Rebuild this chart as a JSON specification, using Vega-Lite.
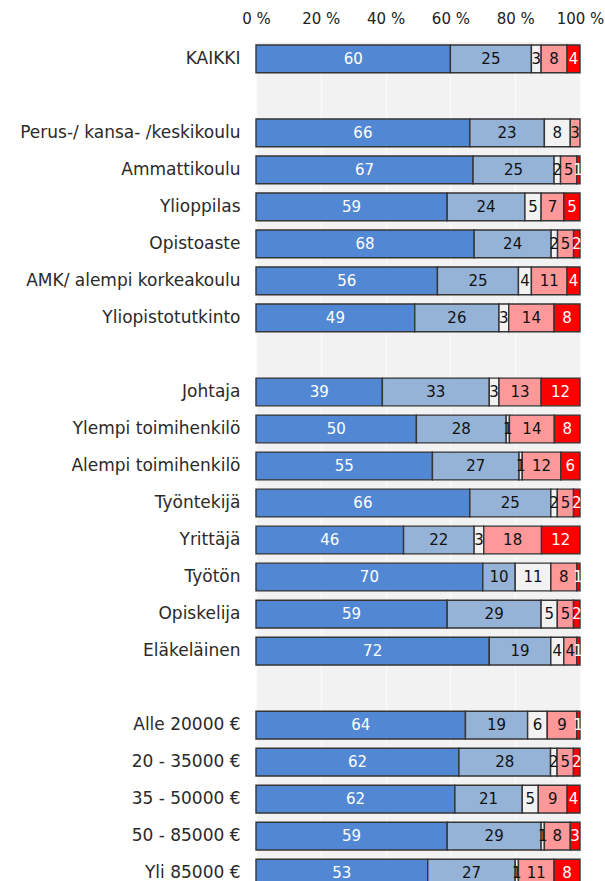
{
  "$schema": "https://vega.github.io/schema/vega-lite/v6.json",
  "autosize": "none",
  "padding": {"left": 256, "top": 42, "right": 25, "bottom": 0},
  "width": 324,
  "height": 848,
  "background": "white",
  "config": {
    "view": {"fill": "#f2f2f2", "stroke": null},
    "font": "DejaVu Sans"
  },
  "data": {
    "values": [
      {"c": "KAIKKI", "k": 1, "v": 60}, {"c": "KAIKKI", "k": 2, "v": 25}, {"c": "KAIKKI", "k": 3, "v": 3}, {"c": "KAIKKI", "k": 4, "v": 8}, {"c": "KAIKKI", "k": 5, "v": 4},
      {"c": "Perus-/ kansa- /keskikoulu", "k": 1, "v": 66}, {"c": "Perus-/ kansa- /keskikoulu", "k": 2, "v": 23}, {"c": "Perus-/ kansa- /keskikoulu", "k": 3, "v": 8}, {"c": "Perus-/ kansa- /keskikoulu", "k": 4, "v": 3},
      {"c": "Ammattikoulu", "k": 1, "v": 67}, {"c": "Ammattikoulu", "k": 2, "v": 25}, {"c": "Ammattikoulu", "k": 3, "v": 2}, {"c": "Ammattikoulu", "k": 4, "v": 5}, {"c": "Ammattikoulu", "k": 5, "v": 1},
      {"c": "Ylioppilas", "k": 1, "v": 59}, {"c": "Ylioppilas", "k": 2, "v": 24}, {"c": "Ylioppilas", "k": 3, "v": 5}, {"c": "Ylioppilas", "k": 4, "v": 7}, {"c": "Ylioppilas", "k": 5, "v": 5},
      {"c": "Opistoaste", "k": 1, "v": 68}, {"c": "Opistoaste", "k": 2, "v": 24}, {"c": "Opistoaste", "k": 3, "v": 2}, {"c": "Opistoaste", "k": 4, "v": 5}, {"c": "Opistoaste", "k": 5, "v": 2},
      {"c": "AMK/ alempi korkeakoulu", "k": 1, "v": 56}, {"c": "AMK/ alempi korkeakoulu", "k": 2, "v": 25}, {"c": "AMK/ alempi korkeakoulu", "k": 3, "v": 4}, {"c": "AMK/ alempi korkeakoulu", "k": 4, "v": 11}, {"c": "AMK/ alempi korkeakoulu", "k": 5, "v": 4},
      {"c": "Yliopistotutkinto", "k": 1, "v": 49}, {"c": "Yliopistotutkinto", "k": 2, "v": 26}, {"c": "Yliopistotutkinto", "k": 3, "v": 3}, {"c": "Yliopistotutkinto", "k": 4, "v": 14}, {"c": "Yliopistotutkinto", "k": 5, "v": 8},
      {"c": "Johtaja", "k": 1, "v": 39}, {"c": "Johtaja", "k": 2, "v": 33}, {"c": "Johtaja", "k": 3, "v": 3}, {"c": "Johtaja", "k": 4, "v": 13}, {"c": "Johtaja", "k": 5, "v": 12},
      {"c": "Ylempi toimihenkilö", "k": 1, "v": 50}, {"c": "Ylempi toimihenkilö", "k": 2, "v": 28}, {"c": "Ylempi toimihenkilö", "k": 3, "v": 1}, {"c": "Ylempi toimihenkilö", "k": 4, "v": 14}, {"c": "Ylempi toimihenkilö", "k": 5, "v": 8},
      {"c": "Alempi toimihenkilö", "k": 1, "v": 55}, {"c": "Alempi toimihenkilö", "k": 2, "v": 27}, {"c": "Alempi toimihenkilö", "k": 3, "v": 1}, {"c": "Alempi toimihenkilö", "k": 4, "v": 12}, {"c": "Alempi toimihenkilö", "k": 5, "v": 6},
      {"c": "Työntekijä", "k": 1, "v": 66}, {"c": "Työntekijä", "k": 2, "v": 25}, {"c": "Työntekijä", "k": 3, "v": 2}, {"c": "Työntekijä", "k": 4, "v": 5}, {"c": "Työntekijä", "k": 5, "v": 2},
      {"c": "Yrittäjä", "k": 1, "v": 46}, {"c": "Yrittäjä", "k": 2, "v": 22}, {"c": "Yrittäjä", "k": 3, "v": 3}, {"c": "Yrittäjä", "k": 4, "v": 18}, {"c": "Yrittäjä", "k": 5, "v": 12},
      {"c": "Työtön", "k": 1, "v": 70}, {"c": "Työtön", "k": 2, "v": 10}, {"c": "Työtön", "k": 3, "v": 11}, {"c": "Työtön", "k": 4, "v": 8}, {"c": "Työtön", "k": 5, "v": 1},
      {"c": "Opiskelija", "k": 1, "v": 59}, {"c": "Opiskelija", "k": 2, "v": 29}, {"c": "Opiskelija", "k": 3, "v": 5}, {"c": "Opiskelija", "k": 4, "v": 5}, {"c": "Opiskelija", "k": 5, "v": 2},
      {"c": "Eläkeläinen", "k": 1, "v": 72}, {"c": "Eläkeläinen", "k": 2, "v": 19}, {"c": "Eläkeläinen", "k": 3, "v": 4}, {"c": "Eläkeläinen", "k": 4, "v": 4}, {"c": "Eläkeläinen", "k": 5, "v": 1},
      {"c": "Alle 20000 €", "k": 1, "v": 64}, {"c": "Alle 20000 €", "k": 2, "v": 19}, {"c": "Alle 20000 €", "k": 3, "v": 6}, {"c": "Alle 20000 €", "k": 4, "v": 9}, {"c": "Alle 20000 €", "k": 5, "v": 1},
      {"c": "20 - 35000 €", "k": 1, "v": 62}, {"c": "20 - 35000 €", "k": 2, "v": 28}, {"c": "20 - 35000 €", "k": 3, "v": 2}, {"c": "20 - 35000 €", "k": 4, "v": 5}, {"c": "20 - 35000 €", "k": 5, "v": 2},
      {"c": "35 - 50000 €", "k": 1, "v": 62}, {"c": "35 - 50000 €", "k": 2, "v": 21}, {"c": "35 - 50000 €", "k": 3, "v": 5}, {"c": "35 - 50000 €", "k": 4, "v": 9}, {"c": "35 - 50000 €", "k": 5, "v": 4},
      {"c": "50 - 85000 €", "k": 1, "v": 59}, {"c": "50 - 85000 €", "k": 2, "v": 29}, {"c": "50 - 85000 €", "k": 3, "v": 1}, {"c": "50 - 85000 €", "k": 4, "v": 8}, {"c": "50 - 85000 €", "k": 5, "v": 3},
      {"c": "Yli 85000 €", "k": 1, "v": 53}, {"c": "Yli 85000 €", "k": 2, "v": 27}, {"c": "Yli 85000 €", "k": 3, "v": 1}, {"c": "Yli 85000 €", "k": 4, "v": 11}, {"c": "Yli 85000 €", "k": 5, "v": 8}
    ]
  },
  "encoding": {
    "y": {
      "field": "c",
      "type": "nominal",
      "title": null,
      "scale": {
        "domain": ["KAIKKI", " ", "Perus-/ kansa- /keskikoulu", "Ammattikoulu", "Ylioppilas", "Opistoaste", "AMK/ alempi korkeakoulu", "Yliopistotutkinto", "  ", "Johtaja", "Ylempi toimihenkilö", "Alempi toimihenkilö", "Työntekijä", "Yrittäjä", "Työtön", "Opiskelija", "Eläkeläinen", "   ", "Alle 20000 €", "20 - 35000 €", "35 - 50000 €", "50 - 85000 €", "Yli 85000 €"],
        "paddingInner": 0.25,
        "paddingOuter": 0.08
      },
      "axis": {
        "domain": false,
        "ticks": false,
        "labelPadding": 16,
        "labelFontSize": 17,
        "labelColor": "#2a2a2a",
        "labelFont": "DejaVu Sans",
        "labelLimit": 300
      }
    },
    "x": {
      "field": "v",
      "type": "quantitative",
      "stack": "normalize",
      "title": null,
      "scale": {"domain": [0, 1], "nice": false},
      "axis": {
        "orient": "top",
        "values": [0, 0.2, 0.4, 0.6, 0.8, 1],
        "labelExpr": "format(datum.value * 100, 'd') + ' %'",
        "domain": false,
        "ticks": false,
        "labelPadding": 16,
        "labelFontSize": 15,
        "labelColor": "#222222",
        "labelFlush": false,
        "grid": true,
        "gridColor": "#fbfbfb",
        "gridWidth": 1.2
      }
    },
    "order": {"field": "k", "type": "quantitative"}
  },
  "layer": [
    {
      "mark": {"type": "bar", "stroke": "#353535", "strokeWidth": 1.4},
      "encoding": {
        "color": {
          "field": "k",
          "type": "nominal",
          "scale": {"domain": [1, 2, 3, 4, 5], "range": ["#5288d3", "#95b3d7", "#f2f2f2", "#ff9999", "#ff0000"]},
          "legend": null
        }
      }
    },
    {
      "mark": {"type": "text", "fontSize": 15, "font": "DejaVu Sans"},
      "encoding": {
        "x": {"field": "v", "type": "quantitative", "stack": "normalize", "bandPosition": 0.5},
        "text": {"field": "v", "type": "quantitative"},
        "color": {
          "condition": {"test": "datum.k == 1 || datum.k == 5", "value": "#ffffff"},
          "value": "#111111"
        }
      }
    }
  ]
}
